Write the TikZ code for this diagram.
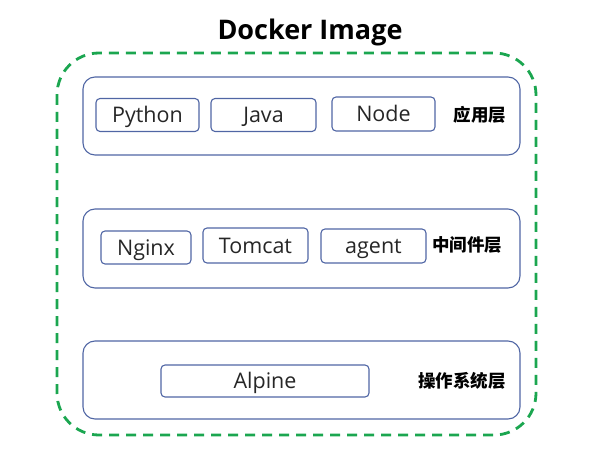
\documentclass[tikz,border=0pt]{standalone}
\usepackage{fontspec}
\setmainfont{Open Sans}
\newfontfamily\cjk{Noto Sans CJK SC}
\definecolor{boxblue}{HTML}{5066A4}
\definecolor{dgreen}{HTML}{1BA650}
\definecolor{txt}{HTML}{262626}
\begin{document}
\begin{tikzpicture}[x=1pt,y=-1pt,
  layer/.style={draw=boxblue,line width=1.1pt,rounded corners=12pt},
  item/.style={draw=boxblue,line width=1.1pt,rounded corners=4pt,inner sep=0pt,text height=15.5pt,text depth=0pt,font=\fontsize{21.5}{21.5}\selectfont,text=txt},
  lab/.style={font=\cjk\bfseries\fontsize{17.5}{17.5}\selectfont,text=black,inner sep=0pt}]
\useasboundingbox (0,0) rectangle (597,476);
\node[font=\bfseries\fontsize{27}{27}\selectfont,inner sep=0pt] (title) at (310,32) {Docker Image};
\draw[dgreen,line width=2.8pt,dash pattern=on 10pt off 7pt,rounded corners=42pt] (57,53) rectangle (536,435);
\draw[layer] (83,77) rectangle (520,155);
\draw[layer] (83,209) rectangle (520,288);
\draw[layer] (83,341) rectangle (520,419);
\node[item,minimum width=103pt,minimum height=33pt] (py) at (147.5,115) {Python};
\node[item,minimum width=105pt,minimum height=33pt] (ja) at (263.5,115) {Java};
\node[item,minimum width=103pt,minimum height=34pt] (no) at (383.5,114) {Node};
\node[lab] (l1) at (480,115) {应用层};
\node[item,minimum width=90pt,minimum height=33pt] (ng) at (146,247.5) {Nginx};
\node[item,minimum width=105pt,minimum height=35pt] (tc) at (255.5,245.5) {Tomcat};
\node[item,minimum width=105pt,minimum height=34pt] (ag) at (373.5,246) {agent};
\node[lab] (l2) at (467,245) {中间件层};
\node[item,minimum width=208pt,minimum height=32pt] (al) at (265,381) {Alpine};
\node[lab] (l3) at (462,381) {操作系统层};
\end{tikzpicture}
\end{document}
